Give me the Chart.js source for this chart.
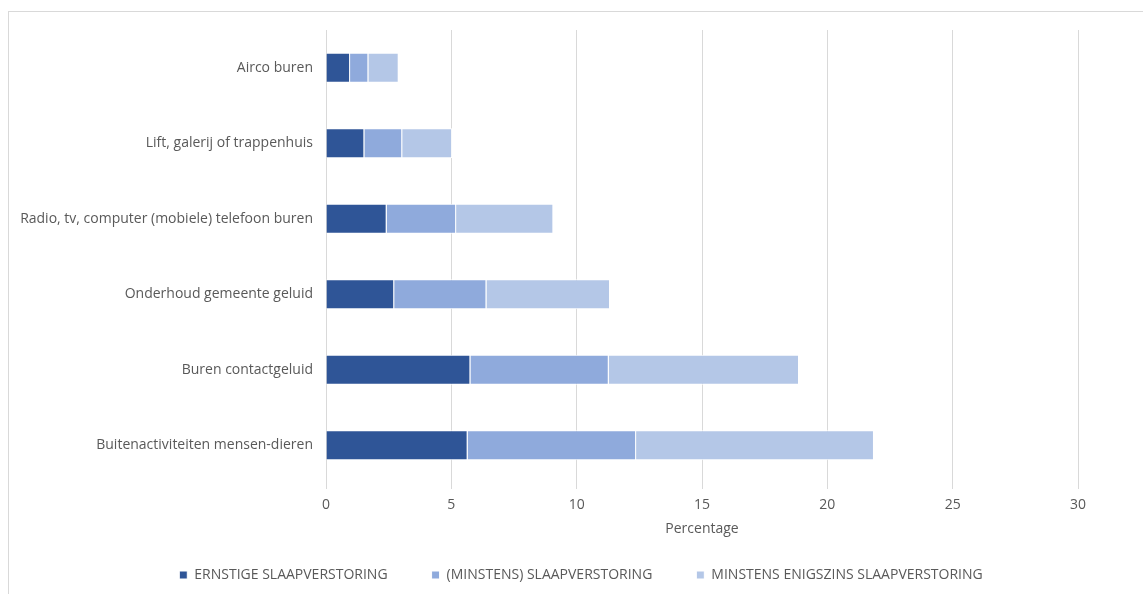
<html>

<head>
    <script src="https://cdn.jsdelivr.net/npm/chart.js"></script>
    <style>
        body { margin: 0; background: #fff; }
        #frame { position: absolute; left: 8px; top: 11px; width: 1200px; height: 700px; border: 1px solid #d9d9d9; }
        #wrap { position: absolute; left: 0; top: 0; width: 1143px; height: 594px; }
    </style>
</head>

<body>
    <div id="frame"></div>
    <div id="wrap"><canvas id="myChart"></canvas></div>
</body>
<script>
    var categories = ["Airco buren", "Lift, galerij of trappenhuis", "Radio, tv, computer (mobiele) telefoon buren",
        "Onderhoud gemeente geluid", "Buren contactgeluid", "Buitenactiviteiten mensen-dieren"];
    var ernstig = [0.96, 1.53, 2.42, 2.72, 5.76, 5.65];
    var minstens = [0.73, 1.51, 2.77, 3.68, 5.52, 6.72];
    var enigszins = [1.21, 1.99, 3.88, 4.93, 7.59, 9.49];
    var seriesNames = ["ERNSTIGE SLAAPVERSTORING", "(MINSTENS) SLAAPVERSTORING", "MINSTENS ENIGSZINS SLAAPVERSTORING"];
    var xTicks = [0, 5, 10, 15, 20, 25, 30];

    var font = { family: "'Open Sans', sans-serif", size: 14 };
    var grey = "#595959";

    // legend sits a bit right of centre in the original
    var shiftLegend = {
        id: 'shiftLegend',
        afterLayout: function (chart) {
            chart.legend.left += 42;
            chart.legend.right += 42;
        }
    };

    var ctx = document.getElementById("myChart").getContext("2d");
    var chart = new Chart(ctx, {
        type: 'bar',
        data: {
            labels: categories,
            datasets: [
                { label: seriesNames[0], data: ernstig, backgroundColor: "#2F5597" },
                { label: seriesNames[1], data: minstens, backgroundColor: "#8FAADC" },
                { label: seriesNames[2], data: enigszins, backgroundColor: "#B4C7E7" }
            ]
        },
        options: {
            indexAxis: 'y',
            animation: false,
            responsive: true,
            maintainAspectRatio: false,
            datasets: { bar: { barPercentage: 0.4, categoryPercentage: 1, borderColor: "#ffffff", borderWidth: 1 } },
            layout: { padding: { top: 30, right: 65, left: 0, bottom: 2 } },
            scales: {
                x: {
                    stacked: true,
                    min: 0, max: 30,
                    afterBuildTicks: function (scale) { scale.ticks = xTicks.map(function (v) { return { value: v }; }); },
                    ticks: { color: grey, font: font, padding: 8 },
                    grid: { color: "#d9d9d9", tickLength: 6, drawTicks: true },
                    border: { display: false },
                    title: { display: true, text: "Percentage", color: grey, font: font, padding: { top: 0, bottom: -13 } },
                    afterFit: function (scale) { scale.height = 41; }
                },
                y: {
                    stacked: true,
                    ticks: { color: grey, font: font, padding: 5 },
                    grid: { display: false },
                    border: { display: false },
                    afterFit: function (scale) { scale.width = 326; }
                }
            },
            plugins: {
                tooltip: { enabled: false },
                legend: {
                    position: 'bottom',
                    labels: { color: grey, font: font, boxWidth: 8, boxHeight: 8, padding: 44 }
                }
            }
        },
        plugins: [shiftLegend]
    });
</script>

</html>
